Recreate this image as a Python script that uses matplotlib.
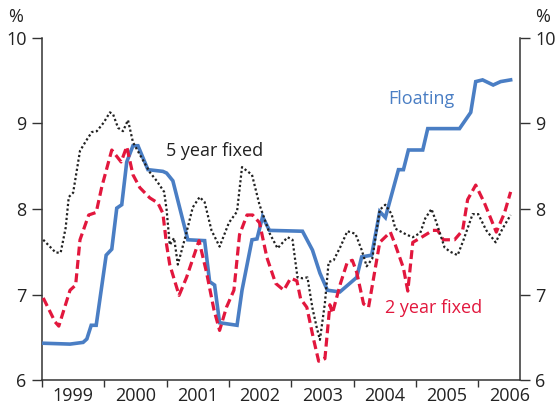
import matplotlib
matplotlib.use("Agg")
import matplotlib.pyplot as plt
from matplotlib.ticker import FixedLocator, NullFormatter

plt.rcParams['font.family'] = ['Open Sans', 'DejaVu Sans']

# floating rate (decimal year, %)
floating_x = [1999.03, 1999.45, 1999.66, 1999.72, 1999.79, 1999.87, 2000.03, 2000.12,
              2000.20, 2000.28, 2000.36, 2000.46, 2000.54, 2000.70, 2000.94, 2001.00,
              2001.10, 2001.34, 2001.61, 2001.69, 2001.77, 2001.85, 2002.13, 2002.21,
              2002.37, 2002.45, 2002.54, 2002.65, 2003.18, 2003.34, 2003.46, 2003.58,
              2003.78, 2004.05, 2004.13, 2004.29, 2004.42, 2004.51, 2004.66, 2004.72,
              2004.80, 2004.88, 2005.11, 2005.19, 2005.70, 2005.88, 2005.96, 2006.07,
              2006.24, 2006.36, 2006.52]
floating_y = [6.43, 6.42, 6.44, 6.48, 6.64, 6.64, 7.46, 7.53,
              8.01, 8.05, 8.55, 8.74, 8.74, 8.46, 8.44, 8.42,
              8.33, 7.64, 7.63, 7.15, 7.11, 6.67, 6.64, 7.05,
              7.64, 7.65, 7.91, 7.75, 7.74, 7.52, 7.25, 7.05,
              7.03, 7.20, 7.44, 7.46, 7.97, 7.90, 8.30, 8.46,
              8.46, 8.69, 8.69, 8.94, 8.94, 9.13, 9.49, 9.51,
              9.45, 9.49, 9.51]

# 2 year fixed
fix2_x = [1999.02, 1999.21, 1999.27, 1999.45, 1999.54, 1999.61, 1999.75, 1999.87,
          1999.96, 2000.12, 2000.27, 2000.36, 2000.46, 2000.57, 2000.73, 2000.86,
          2000.94, 2001.00, 2001.05, 2001.20, 2001.32, 2001.52, 2001.64, 2001.76,
          2001.85, 2001.96, 2002.08, 2002.17, 2002.29, 2002.38, 2002.49, 2002.61,
          2002.75, 2002.88, 2002.99, 2003.09, 2003.15, 2003.25, 2003.36, 2003.44,
          2003.54, 2003.62, 2003.66, 2003.79, 2003.90, 2003.98, 2004.05, 2004.16,
          2004.24, 2004.42, 2004.59, 2004.67, 2004.80, 2004.87, 2004.95, 2005.07,
          2005.27, 2005.35, 2005.44, 2005.62, 2005.75, 2005.83, 2005.96, 2006.10,
          2006.29, 2006.42, 2006.52]
fix2_y = [6.96, 6.68, 6.63, 7.05, 7.11, 7.64, 7.93, 7.96,
          8.26, 8.69, 8.55, 8.73, 8.40, 8.25, 8.13, 8.07,
          7.95, 7.58, 7.35, 6.99, 7.20, 7.63, 7.26, 6.82,
          6.58, 6.85, 7.05, 7.70, 7.93, 7.93, 7.84, 7.43,
          7.13, 7.05, 7.19, 7.16, 6.95, 6.85, 6.47, 6.22,
          6.25, 6.88, 6.78, 7.13, 7.38, 7.40, 7.26, 6.89,
          6.85, 7.61, 7.73, 7.58, 7.31, 7.04, 7.61, 7.66,
          7.75, 7.75, 7.64, 7.64, 7.75, 8.11, 8.28, 8.07,
          7.73, 7.95, 8.20]

# 5 year fixed
fix5_x = [1999.02, 1999.22, 1999.30, 1999.38, 1999.43, 1999.50, 1999.61, 1999.71,
          1999.80, 1999.88, 1999.99, 2000.09, 2000.14, 2000.22, 2000.30, 2000.38,
          2000.46, 2000.59, 2000.73, 2000.84, 2000.96, 2001.00, 2001.05, 2001.12,
          2001.18, 2001.31, 2001.42, 2001.53, 2001.61, 2001.72, 2001.85, 2002.00,
          2002.13, 2002.21, 2002.37, 2002.49, 2002.65, 2002.78, 2002.94, 2003.02,
          2003.10, 2003.18, 2003.26, 2003.34, 2003.41, 2003.46, 2003.54, 2003.60,
          2003.68, 2003.79, 2003.90, 2004.03, 2004.13, 2004.21, 2004.30, 2004.42,
          2004.51, 2004.61, 2004.67, 2004.85, 2004.95, 2005.07, 2005.15, 2005.25,
          2005.33, 2005.46, 2005.55, 2005.67, 2005.76, 2005.91, 2006.00, 2006.13,
          2006.28, 2006.39, 2006.52]
fix5_y = [7.64, 7.49, 7.49, 7.78, 8.14, 8.19, 8.68, 8.80,
          8.90, 8.91, 9.01, 9.13, 9.11, 8.95, 8.91, 9.04,
          8.78, 8.61, 8.43, 8.33, 8.20, 7.99, 7.58, 7.66,
          7.35, 7.70, 8.02, 8.14, 8.08, 7.75, 7.56, 7.84,
          7.97, 8.49, 8.40, 8.05, 7.72, 7.54, 7.67, 7.64,
          7.20, 7.19, 7.20, 6.84, 6.61, 6.47, 6.90, 7.38,
          7.40, 7.56, 7.74, 7.71, 7.52, 7.33, 7.42, 7.99,
          8.05, 7.94, 7.77, 7.70, 7.67, 7.72, 7.89, 8.00,
          7.84, 7.55, 7.50, 7.46, 7.63, 7.94, 7.94, 7.75,
          7.61, 7.77, 7.93]

years = [1999, 2000, 2001, 2002, 2003, 2004, 2005, 2006]
y_ticks = [6, 7, 8, 9, 10]

blue = '#4a7ec4'
red = '#e2173d'
dark = '#333333'
txt = '#222222'
fs = 13

fig = plt.figure(figsize=(5.56, 4.08), dpi=100)
ax = fig.add_axes([0.0755, 0.0686, 0.8597, 0.8383])

ax.plot(floating_x, floating_y, color=blue, lw=2.6, solid_joinstyle='miter', zorder=3)
ax.plot(fix2_x, fix2_y, color=red, lw=2.3, linestyle=(0, (2.8, 1.4)), zorder=4)
ax.plot(fix5_x, fix5_y, color='#222222', lw=1.6, linestyle=(0, (1.0, 1.1)), zorder=5)

ax.set_xlim(1999, 2006.67)
ax.set_ylim(6, 10)

# year boundaries get ticks, labels sit mid-year
ax.xaxis.set_major_locator(FixedLocator(years))
ax.xaxis.set_major_formatter(NullFormatter())
ax.xaxis.set_minor_locator(FixedLocator([y + 0.5 for y in years]))
ax.set_xticklabels([str(y) for y in years], minor=True)
ax.tick_params(axis='x', which='major', length=5, width=1, color=dark, direction='out')
ax.tick_params(axis='x', which='minor', length=0, pad=5, labelsize=fs, labelcolor=txt)

ax.set_yticks(y_ticks)
ax.set_yticklabels([str(v) for v in y_ticks])
ax.tick_params(axis='y', which='both', length=7, width=1, color=dark, direction='out',
               labelsize=fs, labelcolor=txt, pad=4,
               left=True, right=True, labelleft=True, labelright=True)

ax.spines['top'].set_visible(False)
for side in ['left', 'right', 'bottom']:
    ax.spines[side].set_color(dark)
    ax.spines[side].set_linewidth(1.1)

fig.text(16 / 556, 1 - 17 / 408, '%', fontsize=fs, color=txt, ha='center', va='center')
fig.text(543 / 556, 1 - 17 / 408, '%', fontsize=fs, color=txt, ha='center', va='center')

ax.text(2005.09, 9.29, 'Floating', color=blue, fontsize=fs, ha='center', va='center')
ax.text(2001.77, 8.68, '5 year fixed', color=txt, fontsize=fs, ha='center', va='center')
ax.text(2005.28, 6.84, '2 year fixed', color=red, fontsize=fs, ha='center', va='center')

fig.savefig('out.png', dpi=100)
